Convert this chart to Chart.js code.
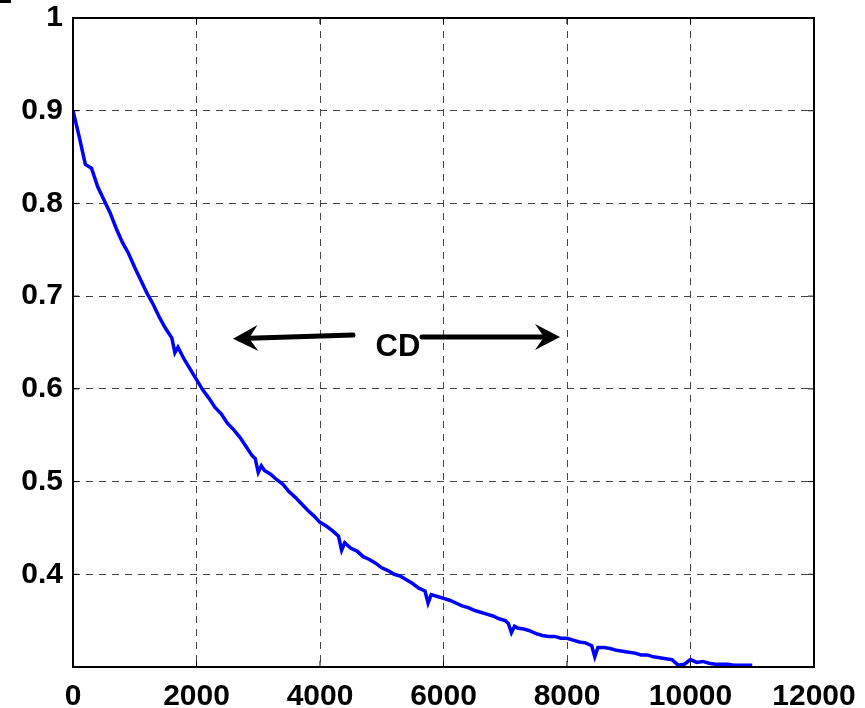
<!DOCTYPE html>
<html>
<head>
<meta charset="utf-8">
<script src="https://cdn.jsdelivr.net/npm/chart.js@4"></script>
<style>
  html, body { margin: 0; padding: 0; background: #fff; }
  #wrap { width: 865px; height: 708px; position: relative; }
</style>
</head>
<body>
<div id="wrap"><canvas id="myChart"></canvas></div>
<script>
const xTicks = [0, 2000, 4000, 6000, 8000, 10000, 12000];
const yTicks = [0.4, 0.5, 0.6, 0.7, 0.8, 0.9, 1];

const iterations = [
  0, 100, 200, 300, 400, 500, 600, 700, 800, 900,
  1000, 1100, 1200, 1300, 1400, 1500, 1600, 1650, 1700, 1800, 1900,
  2000, 2100, 2200, 2300, 2400, 2500, 2600, 2700, 2800, 2900, 2950, 3000, 3050, 3100, 3200, 3300, 3400, 3500, 3600, 3700, 3800, 3900,
  4000, 4100, 4200, 4300, 4350, 4400, 4500, 4600, 4700, 4800, 4900,
  5000, 5100, 5200, 5300, 5400, 5500, 5600, 5700, 5750, 5800, 5900,
  6000, 6100, 6200, 6300, 6400, 6500, 6600, 6700, 6800, 6900,
  7000, 7050, 7100, 7150, 7200, 7300, 7400, 7500, 7600, 7700, 7800, 7900,
  8000, 8100, 8200, 8300, 8400, 8450, 8500, 8600, 8700, 8800, 8900,
  9000, 9100, 9200, 9300, 9400, 9500, 9600, 9700, 9800, 9900,
  10000, 10100, 10200, 10300, 10400, 10500, 10600, 10700, 10800, 10900, 11000
];

const cdValues = [
  0.900, 0.872, 0.842, 0.838, 0.818, 0.804, 0.790, 0.773, 0.758, 0.746,
  0.731, 0.717, 0.703, 0.691, 0.677, 0.665, 0.655, 0.639, 0.645, 0.632, 0.621,
  0.610, 0.599, 0.590, 0.580, 0.573, 0.563, 0.556, 0.548, 0.538, 0.528, 0.525, 0.510, 0.517, 0.512, 0.508, 0.502, 0.497, 0.489, 0.483, 0.476, 0.469, 0.463,
  0.456, 0.452, 0.447, 0.441, 0.426, 0.434, 0.428, 0.425, 0.419, 0.416, 0.412,
  0.407, 0.404, 0.400, 0.398, 0.394, 0.390, 0.385, 0.382, 0.369, 0.378, 0.376,
  0.374, 0.372, 0.369, 0.366, 0.364, 0.361, 0.359, 0.357, 0.355, 0.352,
  0.350, 0.347, 0.337, 0.344, 0.342, 0.341, 0.339, 0.336, 0.334, 0.333, 0.333, 0.331,
  0.331, 0.329, 0.327, 0.326, 0.323, 0.311, 0.321, 0.321, 0.320, 0.318, 0.317,
  0.316, 0.315, 0.313, 0.313, 0.311, 0.310, 0.309, 0.308, 0.302, 0.303,
  0.308, 0.305, 0.306, 0.304, 0.303, 0.303, 0.303, 0.302, 0.302, 0.302, 0.302
];

// annotation: label and two arrows, in data units
const cdLabel = { text: "CD", x: 5263, y: 0.645 };
const cdArrows = [
  { from: [4534, 0.658], to: [2591, 0.654] },
  { from: [5652, 0.656], to: [7887, 0.656] }
];

const FONT = "'Liberation Sans', Arial, sans-serif";

const framePlugin = {
  id: "frame",
  afterDraw(chart) {
    const { ctx, chartArea: a, scales } = chart;
    ctx.save();
    // frame
    ctx.strokeStyle = "#000";
    ctx.lineWidth = 2;
    ctx.strokeRect(a.left, a.top, a.right - a.left, a.bottom - a.top);
    // inward ticks
    ctx.lineWidth = 1;
    ctx.beginPath();
    xTicks.forEach((v) => {
      const px = scales.x.getPixelForValue(v);
      ctx.moveTo(px, a.bottom); ctx.lineTo(px, a.bottom - 6);
      ctx.moveTo(px, a.top); ctx.lineTo(px, a.top + 6);
    });
    yTicks.forEach((v) => {
      const py = scales.y.getPixelForValue(v);
      ctx.moveTo(a.left, py); ctx.lineTo(a.left + 6, py);
      ctx.moveTo(a.right, py); ctx.lineTo(a.right - 6, py);
    });
    ctx.stroke();
    // small mark top-left corner
    ctx.fillStyle = "#000";
    ctx.fillRect(0, 0, 11, 3);

    // arrows
    ctx.strokeStyle = "#000";
    ctx.fillStyle = "#000";
    cdArrows.forEach((ar) => {
      const x1 = scales.x.getPixelForValue(ar.from[0]);
      const y1 = scales.y.getPixelForValue(ar.from[1]);
      const x2 = scales.x.getPixelForValue(ar.to[0]);
      const y2 = scales.y.getPixelForValue(ar.to[1]);
      const ang = Math.atan2(y2 - y1, x2 - x1);
      const len = 25, half = 13, back = 16;
      const bx = x2 - Math.cos(ang) * back, by = y2 - Math.sin(ang) * back;
      ctx.lineWidth = 5;
      ctx.lineCap = "round";
      ctx.beginPath();
      ctx.moveTo(x1, y1);
      ctx.lineTo(bx, by);
      ctx.stroke();
      const cx = x2 - Math.cos(ang) * len, cy = y2 - Math.sin(ang) * len;
      const nx = -Math.sin(ang), ny = Math.cos(ang);
      ctx.beginPath();
      ctx.moveTo(x2, y2);
      ctx.lineTo(cx + nx * half, cy + ny * half);
      ctx.lineTo(bx, by);
      ctx.lineTo(cx - nx * half, cy - ny * half);
      ctx.closePath();
      ctx.fill();
    });

    ctx.font = "bold 31px " + FONT;
    ctx.textAlign = "center";
    ctx.textBaseline = "middle";
    ctx.fillText(cdLabel.text, scales.x.getPixelForValue(cdLabel.x), scales.y.getPixelForValue(cdLabel.y));
    ctx.restore();
  }
};

const gridStyle = {
  color: "#444",
  lineWidth: 1,
  drawTicks: false
};

new Chart(document.getElementById("myChart"), {
  type: "line",
  data: {
    datasets: [
      {
        data: iterations.map((x, i) => ({ x: x, y: cdValues[i] })),
        borderColor: "#0000ff",
        borderWidth: 3.5,
        pointRadius: 0,
        fill: false,
        tension: 0
      }
    ]
  },
  options: {
    responsive: true,
    maintainAspectRatio: false,
    animation: false,
    layout: { padding: { top: 18, right: 51, left: 0, bottom: 0 } },
    plugins: {
      legend: { display: false },
      tooltip: { enabled: false }
    },
    scales: {
      x: {
        type: "linear",
        min: 0,
        max: 12000,
        afterBuildTicks: (axis) => { axis.ticks = xTicks.map((v) => ({ value: v })); },
        afterFit: (axis) => {
          axis.height = 41;
          axis.paddingLeft = 0;
          axis.paddingRight = 0;
        },
        grid: gridStyle,
        border: { display: false, dash: [7, 6] },
        ticks: {
          color: "#000",
          padding: 12,
          maxRotation: 0,
          font: { family: FONT, size: 30, weight: "bold" },
          callback: (v) => String(v)
        }
      },
      y: {
        min: 0.3,
        max: 1,
        afterBuildTicks: (axis) => { axis.ticks = yTicks.map((v) => ({ value: v })); },
        afterFit: (axis) => {
          axis.width = 73;
          axis.paddingTop = 0;
          axis.paddingBottom = 0;
        },
        grid: gridStyle,
        border: { display: false, dash: [7, 6] },
        ticks: {
          color: "#000",
          padding: 10,
          font: { family: FONT, size: 30, weight: "bold" },
          callback: (v) => String(v)
        }
      }
    }
  },
  plugins: [framePlugin]
});
</script>
</body>
</html>
